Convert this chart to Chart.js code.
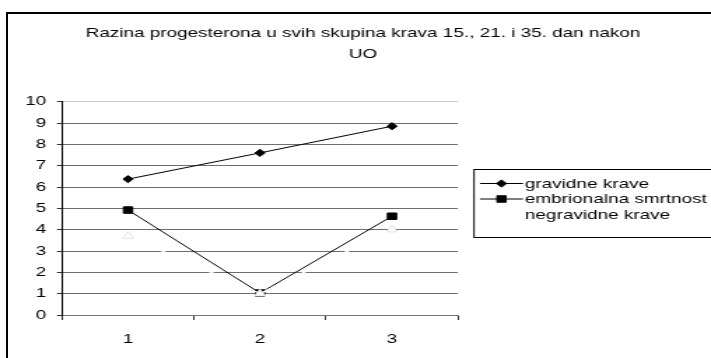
<!DOCTYPE html>
<html>
<head>
<meta charset="utf-8">
<script src="https://cdn.jsdelivr.net/npm/chart.js@4.4.1/dist/chart.umd.min.js"></script>
<style>
  html, body { margin: 0; padding: 0; background: #fff; }
  #wrap { position: relative; width: 711px; height: 358px; overflow: hidden; }
  #frame { position: absolute; left: 6px; top: 12px; width: 800px; height: 400px;
           border-left: 2px solid #000; border-top: 2px solid #000; }
  #c { position: absolute; left: 0; top: 0; }
</style>
</head>
<body>
<div id="wrap">
  <div id="frame"></div>
  <!-- slika je u originalu rastegnuta vodoravno, pa i ovdje -->
  <canvas id="c" width="508" height="358" style="width:711px;height:358px"></canvas>
</div>
<script>
// podaci
const categories = ["1", "2", "3"];
const gravidne = [6.37, 7.6, 8.85];
const embrionalna = [4.92, 1.03, 4.63];
const negravidne = [3.7, 1.0, 4.0];
const seriesNames = ["gravidne krave", "embrionalna smrtnost", "negravidne krave"];
const titleLines = ["Razina progesterona u svih skupina krava 15., 21. i 35. dan nakon", "UO"];
const yMin = 0, yMax = 10, yStep = 1;

const S = 711 / 508; // vodoravno rastezanje
const FONT = "'Liberation Sans', Arial, sans-serif";
const FS = 13.5;

// legenda u stilu Excela (linija + marker)
const excelLegend = {
  id: "excelLegend",
  afterDraw(chart) {
    const ctx = chart.ctx;
    const x0 = 474 / S, y0 = 169.5;
    ctx.save();
    ctx.strokeStyle = "#000";
    ctx.lineWidth = 1;
    ctx.strokeRect(x0, y0, 300, 68);
    ctx.font = FS + "px " + FONT;
    ctx.textBaseline = "middle";
    ctx.textAlign = "left";
    chart.data.datasets.forEach((ds, i) => {
      const y = 183.5 + i * 15.5;
      ctx.strokeStyle = ds.borderColor;
      ctx.lineWidth = 1;
      ctx.beginPath();
      ctx.moveTo(480 / S, y);
      ctx.lineTo(523 / S, y);
      ctx.stroke();
      ctx.fillStyle = ds.backgroundColor;
      ctx.strokeStyle = ds.backgroundColor;
      Chart.helpers.drawPoint(ctx, {
        pointStyle: ds.pointStyle,
        radius: ds.pointRadius,
        borderWidth: 1,
        rotation: 0
      }, 501.5 / S, y);
      ctx.fillStyle = "#000";
      ctx.fillText(ds.label, 525 / S, y + 0.5);
    });
    ctx.restore();
  }
};

// naslov centriran na cijelom okviru grafikona
const titleShift = {
  id: "titleShift",
  afterLayout(chart) {
    const t = chart.titleBlock;
    if (!t) return;
    const c = 363 / S;
    t.left = c - 260;
    t.right = c + 260;
  }
};

const ctx = document.getElementById("c").getContext("2d");
const chart = new Chart(ctx, {
  type: "line",
  data: {
    labels: categories,
    datasets: [
      {
        label: seriesNames[0],
        data: gravidne,
        borderColor: "#000",
        backgroundColor: "#000",
        borderWidth: 1,
        pointStyle: "rectRot",
        pointRadius: 3.6,
        pointBorderWidth: 1,
        order: 2
      },
      {
        label: seriesNames[1],
        data: embrionalna,
        borderColor: "#000",
        backgroundColor: "#000",
        borderWidth: 1,
        pointStyle: "rect",
        pointRadius: 4.6,
        pointBorderWidth: 1,
        order: 1
      },
      {
        label: seriesNames[2],
        data: negravidne,
        borderColor: "#fff",
        backgroundColor: "#fff",
        borderWidth: 1.5,
        pointStyle: "triangle",
        pointRadius: 4.5,
        pointBorderColor: "#e2e2e2",
        pointBorderWidth: 1,
        order: 0
      }
    ]
  },
  options: {
    responsive: false,
    animation: false,
    events: [],
    layout: { padding: { top: 10, left: 0, right: 508 - 458 / S, bottom: 0 } },
    plugins: {
      legend: { display: false },
      tooltip: { enabled: false },
      title: {
        display: true,
        text: titleLines,
        color: "#000",
        font: { family: FONT, size: FS, weight: "normal", lineHeight: 1.555 },
        padding: { top: 12.5, bottom: 37.2 }
      }
    },
    scales: {
      x: {
        offset: true,
        grid: {
          display: true,
          offset: true,
          drawOnChartArea: false,
          drawTicks: true,
          tickLength: 5,
          tickColor: "#333"
        },
        border: { display: true, color: "#777", width: 1 },
        ticks: { color: "#000", font: { family: FONT, size: FS }, padding: 11 },
        afterFit(scale) { scale.height = 43; }
      },
      y: {
        min: yMin,
        max: yMax,
        grid: {
          color: (c) => (c.tick && c.tick.value === yMax ? "#c8c8c8" : "#6e6e6e"),
          tickLength: 3.6,
          tickColor: "#333"
        },
        border: { display: true, color: "#000", width: 1 },
        ticks: { stepSize: yStep, color: "#000", font: { family: FONT, size: FS }, padding: 7.8 },
        afterFit(scale) { scale.width = 62 / S; }
      }
    }
  },
  plugins: [excelLegend, titleShift]
});
</script>
</body>
</html>
